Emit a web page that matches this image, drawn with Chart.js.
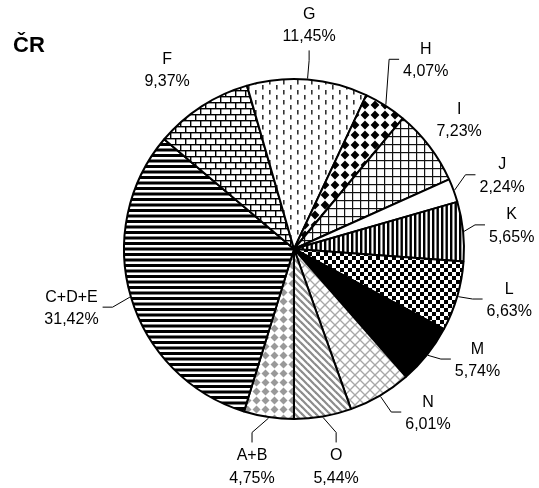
<!DOCTYPE html>
<html><head><meta charset="utf-8">
<script src="https://cdn.jsdelivr.net/npm/chart.js@4/dist/chart.umd.min.js"></script>
<style>html,body{margin:0;padding:0;background:#fff;}canvas{display:block}</style>
</head><body>
<canvas id="c" width="539" height="488" style="width:539px;height:488px"></canvas>
<script>
const chartTitle = 'ČR';
const categories = ['A+B','C+D+E','F','G','H','I','J','K','L','M','N','O'];
const shares = [4.75, 31.42, 9.37, 11.45, 4.07, 7.23, 2.24, 5.65, 6.63, 5.74, 6.01, 5.44];
const patternKinds = ['greyDiamond','hLines','brick','vDash','blackDiamond','grid','white','vLines','checker','black','greyCross','greyDiag'];
// label placement tweaks (degrees relative to slice middle, distance from centre in px)
const labelAngleNudge = [2.4, 1.7, -2.3, -0.7, 2.3, -1, 0.5, -0.4, -3.1, -7.5, -9, -1.2];
const labelDistance = [221, 230, 220, 225, 231, 210, 221, 219, 221, 214, 211, 221];

const canvas = document.getElementById('c');
const mainCtx = canvas.getContext('2d');

function tile(w, h, draw) {
  const c = document.createElement('canvas');
  c.width = w; c.height = h;
  const x = c.getContext('2d');
  x.fillStyle = '#fff'; x.fillRect(0, 0, w, h);
  draw(x, w, h);
  return mainCtx.createPattern(c, 'repeat');
}
function diamond(x, cx, cy, r) {
  x.beginPath(); x.moveTo(cx, cy - r); x.lineTo(cx + r, cy); x.lineTo(cx, cy + r); x.lineTo(cx - r, cy); x.closePath(); x.fill();
}
function makePattern(kind) {
  switch (kind) {
    case 'greyDiamond': return tile(9, 9, (x) => { x.fillStyle = '#999'; diamond(x, 4.5, 4.5, 4.0); });
    case 'hLines': return tile(4, 11, (x) => { x.fillStyle = '#000'; x.fillRect(0, 0, 4, 3); x.fillRect(0, 5.5, 4, 3); });
    case 'brick': return tile(10, 12, (x) => { x.fillStyle = '#000'; x.fillRect(0, 0, 10, 1.4); x.fillRect(0, 6, 10, 1.4); x.fillRect(0, 0, 1.4, 6); x.fillRect(5, 6, 1.4, 6); });
    case 'vDash': return tile(14, 10, (x) => { x.fillStyle = '#333'; x.fillRect(3, 0, 1.6, 4.5); x.fillRect(10, 5, 1.6, 4.5); });
    case 'blackDiamond': return tile(10, 10, (x) => { x.fillStyle = '#000'; diamond(x, 5, 5, 4.4); });
    case 'grid': return tile(8, 8, (x) => { x.fillStyle = '#111'; x.fillRect(0, 0, 8, 1.2); x.fillRect(0, 0, 1.2, 8); });
    case 'white': return '#ffffff';
    case 'vLines': return tile(9, 4, (x) => { x.fillStyle = '#000'; x.fillRect(0, 0, 2.4, 4); x.fillRect(4.5, 0, 2.4, 4); });
    case 'checker': return tile(8, 8, (x) => { x.fillStyle = '#000'; x.fillRect(0, 0, 4, 4); x.fillRect(4, 4, 4, 4); });
    case 'black': return '#000000';
    case 'greyCross': return tile(10, 10, (x) => { x.strokeStyle = '#a8a8a8'; x.lineWidth = 1.3; [-10, 0, 10].forEach(c => { x.beginPath(); x.moveTo(-2, -2 + c); x.lineTo(12, 12 + c); x.stroke(); x.beginPath(); x.moveTo(12, -2 + c); x.lineTo(-2, 12 + c); x.stroke(); }); });
    case 'greyDiag': return tile(7, 7, (x) => { x.strokeStyle = '#8c8c8c'; x.lineWidth = 2.2; [-7, 0, 7].forEach(c => { x.beginPath(); x.moveTo(-2, -2 + c); x.lineTo(9, 9 + c); x.stroke(); }); });
  }
  return '#fff';
}
const patterns = patternKinds.map(makePattern);
const fmt = v => v.toFixed(2).replace('.', ',') + '%';

const labelPlugin = {
  id: 'sliceLabels',
  afterDraw(chart) {
    const ctx = chart.ctx;
    const meta = chart.getDatasetMeta(0);
    ctx.save();
    ctx.fillStyle = '#000';
    ctx.font = 'bold 22px "Liberation Sans", Arial, sans-serif';
    ctx.textAlign = 'left'; ctx.textBaseline = 'alphabetic';
    ctx.fillText(chartTitle, 13, 52);
    ctx.font = '16px "Liberation Sans", Arial, sans-serif';
    ctx.textAlign = 'center';
    meta.data.forEach((arc, i) => {
      const p = arc.getProps(['x', 'y', 'startAngle', 'endAngle', 'outerRadius'], true);
      const mid = (p.startAngle + p.endAngle) / 2;
      const la = mid + labelAngleNudge[i] * Math.PI / 180;
      const cx = p.x + labelDistance[i] * Math.cos(la);
      const cy = p.y + labelDistance[i] * Math.sin(la);
      const l1 = categories[i], l2 = fmt(shares[i]);
      const b1 = cy - 5.5, b2 = cy + 16.9;
      ctx.fillText(l1, cx, b1);
      ctx.fillText(l2, cx, b2);
      const w = Math.max(ctx.measureText(l1).width, ctx.measureText(l2).width);
      const box = { l: cx - w / 2 - 4, r: cx + w / 2 + 4, t: b1 - 18, b: b2 + 9 };
      const ax = p.x + (p.outerRadius + 1) * Math.cos(mid), ay = p.y + (p.outerRadius + 1) * Math.sin(mid);
      const dx = Math.max(box.l - ax, 0, ax - box.r), dy = Math.max(box.t - ay, 0, ay - box.b);
      if (Math.hypot(dx, dy) < 14) return;
      const deg = ((mid * 180 / Math.PI + 90) % 360 + 360) % 360;
      let att, elb;
      if (deg > 30 && deg < 150) { att = [box.l, cy]; elb = [box.l - 10, cy]; }
      else if (deg > 210 && deg < 300) { att = [box.r, cy]; elb = [box.r + 10, cy]; }
      else if (deg >= 150 && deg <= 210) { att = [cx, box.t]; elb = [cx, box.t - 10]; }
      else { att = [cx, box.b]; elb = [cx, box.b + 10]; }
      ctx.beginPath();
      ctx.moveTo(ax, ay); ctx.lineTo(elb[0], elb[1]); ctx.lineTo(att[0], att[1]);
      ctx.lineWidth = 1; ctx.strokeStyle = '#000'; ctx.stroke();
    });
    ctx.restore();
  }
};

new Chart(mainCtx, {
  type: 'pie',
  data: {
    labels: categories,
    datasets: [{ data: shares, backgroundColor: patterns, borderColor: '#000', borderWidth: 2 }]
  },
  options: {
    responsive: false,
    animation: false,
    devicePixelRatio: 1,
    rotation: 180,
    events: [],
    layout: { padding: { left: 123, right: 74, top: 78, bottom: 68 } },
    plugins: { legend: { display: false }, tooltip: { enabled: false } }
  },
  plugins: [labelPlugin]
});
</script>
</body></html>
